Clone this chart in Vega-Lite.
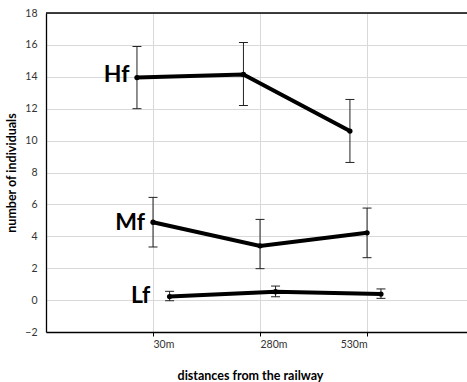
{
  "$schema": "https://vega.github.io/schema/vega-lite/v6.json",
  "width": 421,
  "height": 319,
  "autosize": {"type": "none"},
  "padding": {"left": 46, "top": 13, "right": 0, "bottom": 50},
  "background": "white",
  "config": {
    "view": {"stroke": "transparent", "strokeWidth": 0},
    "font": "Lato"
  },
  "resolve": {"axis": {"x": "independent", "y": "independent"}},
  "datasets": {
    "pts": [
      {"series": "Hf", "pos": 0.85, "value": 13.95, "lo": 12.0, "hi": 15.9},
      {"series": "Hf", "pos": 1.845, "value": 14.15, "lo": 12.2, "hi": 16.15},
      {"series": "Hf", "pos": 2.84, "value": 10.6, "lo": 8.63, "hi": 12.58},
      {"series": "Mf", "pos": 1.0, "value": 4.88, "lo": 3.33, "hi": 6.44},
      {"series": "Mf", "pos": 2.0, "value": 3.4, "lo": 1.97, "hi": 5.06},
      {"series": "Mf", "pos": 3.0, "value": 4.22, "lo": 2.66, "hi": 5.77},
      {"series": "Lf", "pos": 1.155, "value": 0.22, "lo": -0.04, "hi": 0.55},
      {"series": "Lf", "pos": 2.145, "value": 0.53, "lo": 0.21, "hi": 0.88},
      {"series": "Lf", "pos": 3.13, "value": 0.38, "lo": 0.11, "hi": 0.7}
    ],
    "labels": [
      {"label": "Hf", "x": 0.78, "y": 13.69},
      {"label": "Mf", "x": 0.925, "y": 4.4},
      {"label": "Lf", "x": 0.975, "y": -0.2}
    ]
  },
  "layer": [
    {
      "data": {"name": "pts"},
      "mark": {"type": "line", "color": "#000", "strokeWidth": 4},
      "encoding": {
        "x": {
          "field": "pos",
          "type": "quantitative",
          "title": "distances from the railway",
          "scale": {"domain": [0, 3.934], "nice": false, "zero": false},
          "axis": {
            "values": [1, 2, 3],
            "labelExpr": "datum.value == 1 ? '30m' : datum.value == 2 ? '280m' : '530m'",
            "labelAlign": {"condition": {"test": "datum.value == 3", "value": "right"}, "value": "left"},
            "labelFontSize": 10.5,
            "labelColor": "#333",
            "labelPadding": 3,
            "tickSize": 4,
            "tickColor": "#000",
            "domainColor": "#000",
            "domainWidth": 1.3,
            "grid": true,
            "gridColor": "#d9d9d9",
            "gridWidth": 1,
            "titleFontSize": 12.5,
            "titleFontWeight": "bold",
            "titleColor": "#000",
            "titlePadding": 20,
            "titleX": 204
          }
        },
        "y": {
          "field": "value",
          "type": "quantitative",
          "title": "number of individuals",
          "scale": {"domain": [-2, 18], "nice": false, "zero": false},
          "axis": {
            "values": [-2, 0, 2, 4, 6, 8, 10, 12, 14, 16, 18],
            "labelOverlap": false,
            "ticks": false,
            "labelPadding": 9,
            "labelFontSize": 10.5,
            "labelColor": "#333",
            "domainColor": "#000",
            "domainWidth": 1.3,
            "grid": true,
            "gridColor": "#d9d9d9",
            "gridWidth": 1,
            "titleFontSize": 12.5,
            "titleFontWeight": "bold",
            "titleColor": "#000",
            "titlePadding": 6
          }
        },
        "detail": {"field": "series"}
      }
    },
    {
      "data": {"name": "pts"},
      "mark": {"type": "rule", "color": "#222", "strokeWidth": 1},
      "encoding": {
        "x": {"field": "pos", "type": "quantitative", "axis": null},
        "y": {"field": "lo", "type": "quantitative", "axis": null},
        "y2": {"field": "hi"}
      }
    },
    {
      "data": {"name": "pts"},
      "mark": {"type": "point", "shape": "M-1,0L1,0", "size": 81, "filled": false, "color": "#222", "strokeWidth": 1, "opacity": 1},
      "encoding": {
        "x": {"field": "pos", "type": "quantitative", "axis": null},
        "y": {"field": "lo", "type": "quantitative", "axis": null}
      }
    },
    {
      "data": {"name": "pts"},
      "mark": {"type": "point", "shape": "M-1,0L1,0", "size": 81, "filled": false, "color": "#222", "strokeWidth": 1, "opacity": 1},
      "encoding": {
        "x": {"field": "pos", "type": "quantitative", "axis": null},
        "y": {"field": "hi", "type": "quantitative", "axis": null}
      }
    },
    {
      "data": {"name": "pts"},
      "mark": {"type": "circle", "size": 28, "color": "#000", "opacity": 1},
      "encoding": {
        "x": {"field": "pos", "type": "quantitative", "axis": null},
        "y": {"field": "value", "type": "quantitative", "axis": null}
      }
    },
    {
      "data": {"values": [{}]},
      "mark": {"type": "rule", "color": "#000", "strokeWidth": 1.3},
      "encoding": {
        "y": {"datum": 18, "axis": null}
      }
    },
    {
      "data": {"name": "labels"},
      "mark": {"type": "text", "font": "Lato", "fontWeight": "bold", "fontSize": 23, "align": "right", "baseline": "alphabetic", "color": "#000"},
      "encoding": {
        "x": {"field": "x", "type": "quantitative", "axis": null},
        "y": {"field": "y", "type": "quantitative", "axis": null},
        "text": {"field": "label"}
      }
    }
  ]
}
